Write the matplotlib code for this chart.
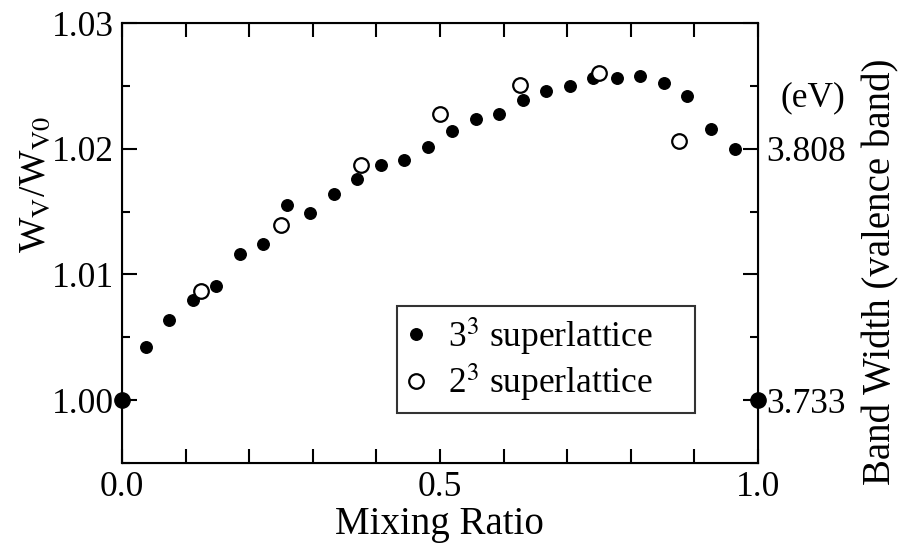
import matplotlib
matplotlib.use("Agg")
import matplotlib.pyplot as plt
from matplotlib.ticker import MultipleLocator, FixedLocator

plt.rcParams['font.family'] = ['Liberation Serif', 'DejaVu Serif']
plt.rcParams['mathtext.fontset'] = 'stix'
plt.rcParams['font.size'] = 25.5

# 3^3 superlattice (filled)
x33 = [0.037, 0.074, 0.111, 0.148, 0.185, 0.222, 0.259, 0.296, 0.333,
       0.370, 0.407, 0.444, 0.481, 0.519, 0.556, 0.593, 0.630, 0.667,
       0.704, 0.741, 0.778, 0.815, 0.852, 0.889, 0.926, 0.963]
y33 = [1.0042, 1.0064, 1.0080, 1.0091, 1.0116, 1.0124, 1.0155, 1.0149, 1.0164,
       1.0176, 1.0187, 1.0191, 1.0201, 1.0214, 1.0224, 1.0228, 1.0239, 1.0246,
       1.0250, 1.0256, 1.0256, 1.0258, 1.0252, 1.0242, 1.0216, 1.0200]

# 2^3 superlattice (open)
x23 = [0.125, 0.250, 0.375, 0.500, 0.625, 0.750, 0.875]
y23 = [1.0087, 1.0139, 1.0187, 1.0228, 1.0251, 1.0260, 1.0206]

# pure end points
x_end = [0.0, 1.0]
y_end = [1.000, 1.000]

right_ticks = [1.00, 1.01, 1.02, 1.03]
right_labels = ['3.733', '', '3.808', '']

fig = plt.figure(figsize=(8.99, 5.44), dpi=100)
ax = fig.add_axes([0.1357, 0.1489, 0.7075, 0.8088])

ax.plot(x33, y33, 'o', color='black', markersize=8.3, linestyle='none',
        label='3$^{3}$ superlattice')
ax.plot(x23, y23, 'o', markerfacecolor='white', markeredgecolor='black',
        markeredgewidth=1.6, markersize=10.5, linestyle='none',
        label='2$^{3}$ superlattice')
ax.plot(x_end, y_end, 'o', color='black', markersize=11, linestyle='none',
        clip_on=False, zorder=5)

ax.set_xlim(0, 1)
ax.set_ylim(0.995, 1.03)
ax.xaxis.set_major_locator(FixedLocator([0.0, 0.5, 1.0]))
ax.xaxis.set_minor_locator(MultipleLocator(0.1))
ax.yaxis.set_major_locator(MultipleLocator(0.01))
ax.yaxis.set_minor_locator(MultipleLocator(0.005))
ax.set_xticklabels(['0.0', '0.5', '1.0'])
ax.set_yticklabels(['%.2f' % v for v in ax.get_yticks()])
ax.set_ylim(0.995, 1.03)

for s in ax.spines.values():
    s.set_linewidth(1.5)
ax.tick_params(which='both', direction='in', top=True, width=1.5, pad=6)
ax.tick_params(axis='x', which='both', length=10)
ax.tick_params(axis='y', which='major', length=11)
ax.tick_params(axis='y', which='minor', length=6)

fig.text(0.489, 0.035, 'Mixing Ratio', ha='center', va='center', fontsize=28)
fig.text(0.040, 0.66, 'W$_\\mathrm{V}$/W$_\\mathrm{V0}$', rotation=90,
         ha='center', va='center', fontsize=27)
fig.text(0.980, 0.50, 'Band Width (valence band)', rotation=90,
         ha='center', va='center', fontsize=28)

ax2 = ax.twinx()
ax2.set_ylim(0.995, 1.03)
ax2.yaxis.set_major_locator(FixedLocator(right_ticks))
ax2.yaxis.set_minor_locator(MultipleLocator(0.005))
ax2.set_yticklabels(right_labels)
ax2.set_ylim(0.995, 1.03)
ax2.tick_params(which='both', direction='in', width=1.5, pad=6)
ax2.tick_params(axis='y', which='major', length=11)
ax2.tick_params(axis='y', which='minor', length=6)
fig.text(0.904, 0.82, '(eV)', ha='center', va='center', fontsize=25.5)

leg = ax.legend(loc='lower left', bbox_to_anchor=(0.432, 0.114, 0.469, 0.272),
                mode='expand', frameon=True, fancybox=False, handlelength=0.6,
                handletextpad=0.6, labelspacing=0.1, borderpad=0.25,
                borderaxespad=0, fontsize=25.5)
leg.get_frame().set_edgecolor('black')
leg.get_frame().set_linewidth(1.5)

fig.savefig('out.png', dpi=100)
